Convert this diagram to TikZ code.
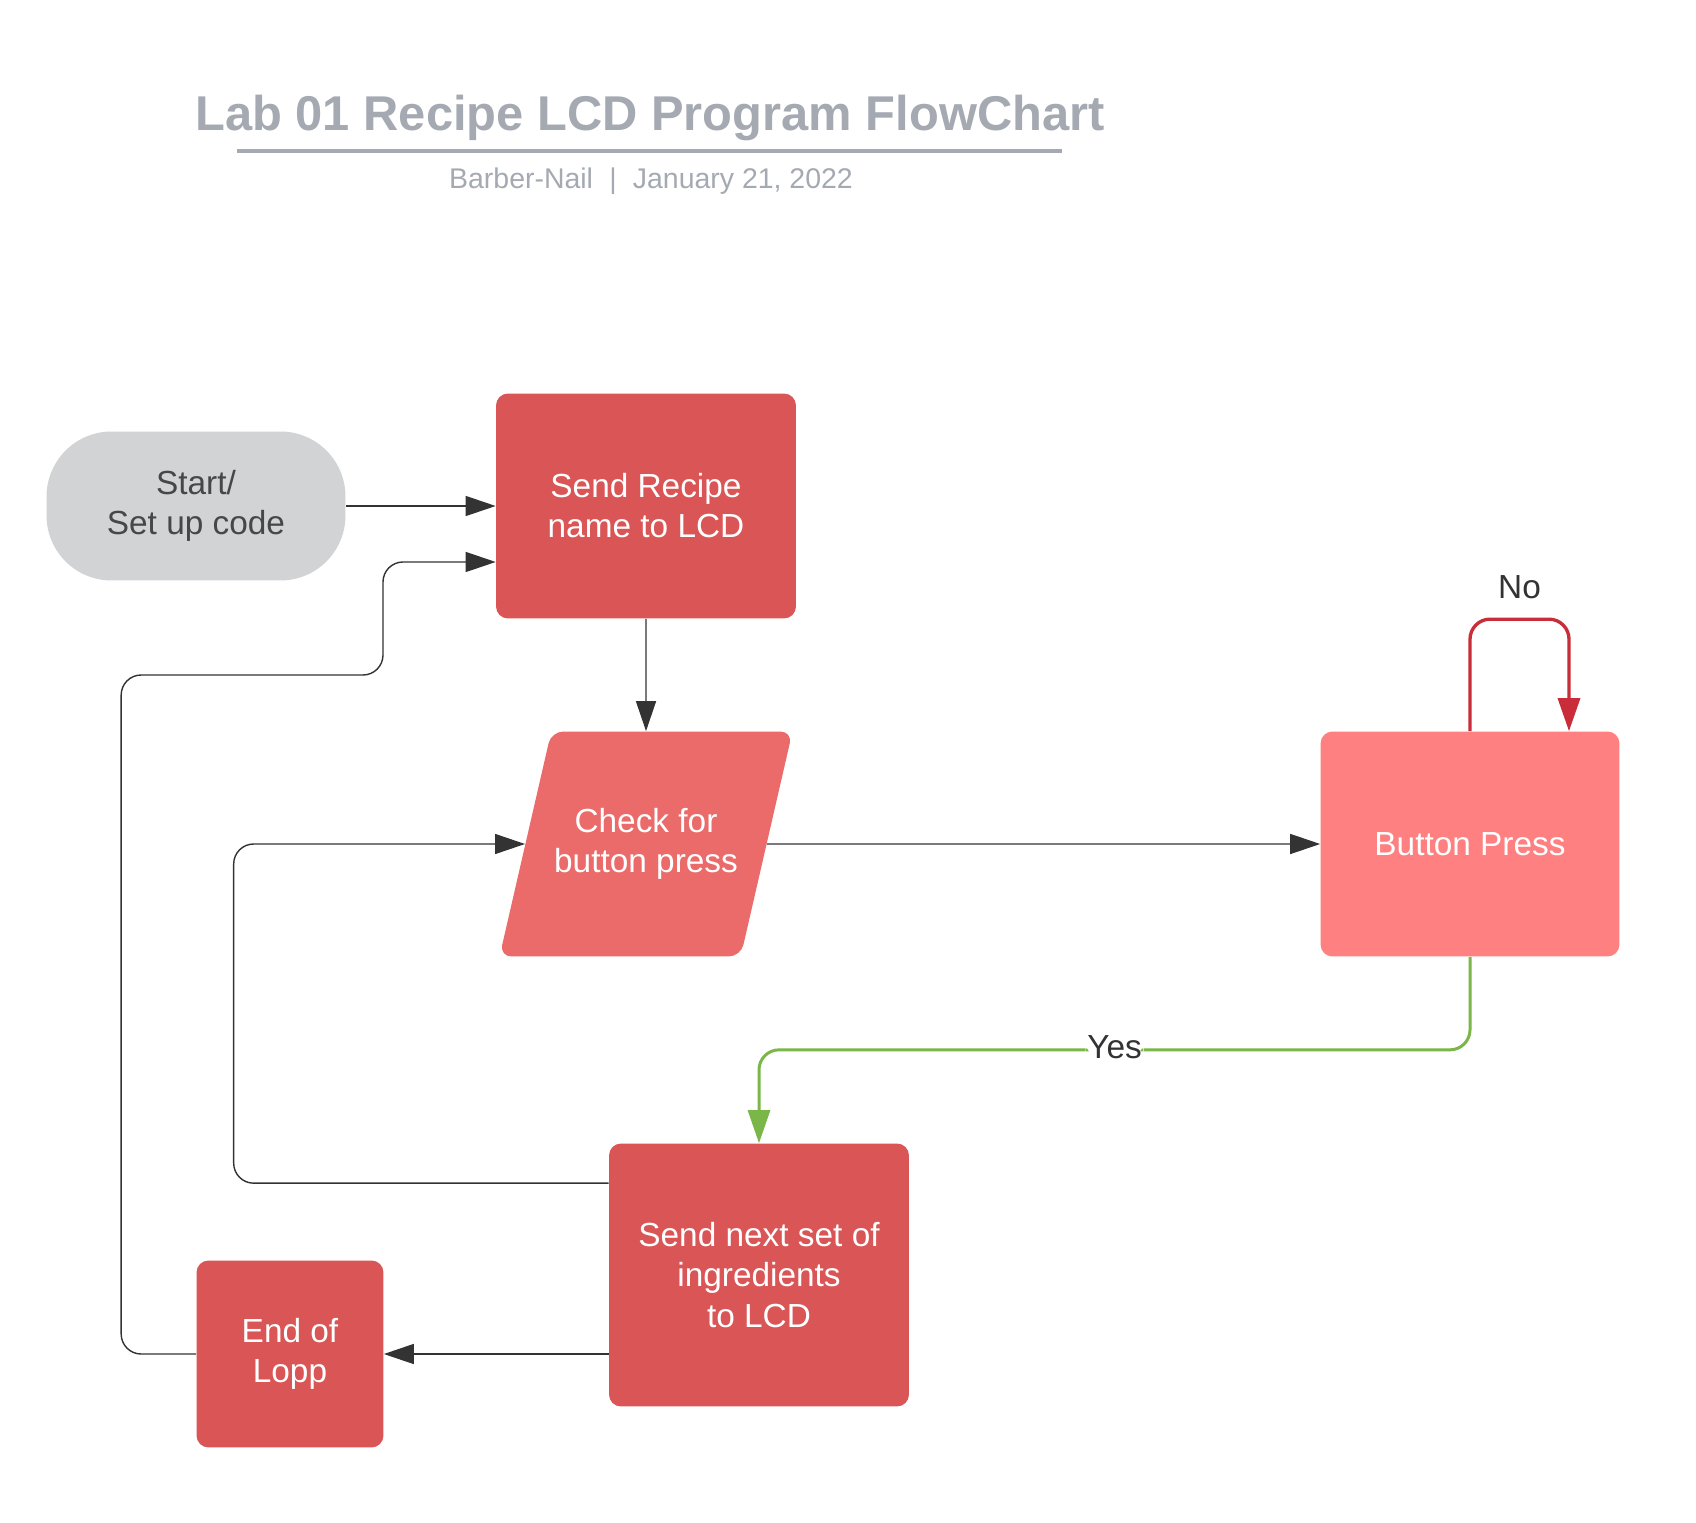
\documentclass[tikz,border=0pt]{standalone}
\usepackage{fontspec}
\setmainfont{Liberation Sans}
\usetikzlibrary{arrows.meta}
\usetikzlibrary{shapes.geometric}

\definecolor{boxred}{HTML}{D95556}
\definecolor{checkred}{HTML}{EB6A6A}
\definecolor{pressred}{HTML}{FE8080}
\definecolor{startgrey}{HTML}{D1D3D4}
\definecolor{titlegrey}{HTML}{A4A9B2}
\definecolor{linedark}{HTML}{333333}
\definecolor{nored}{HTML}{C92D39}
\definecolor{yesgreen}{HTML}{7AB648}

\tikzset{
  box/.style={draw=none, fill=boxred, rounded corners=0.24cm, text=white, align=center,
    font=\fontsize{19pt}{22.8pt}\selectfont},
  flow/.style={draw=linedark, line width=0.8pt, rounded corners=0.4cm,
    -{Triangle[length=0.6cm,width=0.4cm]}},
  noflow/.style={draw=nored, line width=1.9pt, rounded corners=0.4cm,
    -{Triangle[length=0.66cm,width=0.44cm]}},
  yesflow/.style={draw=yesgreen, line width=1.7pt, rounded corners=0.4cm,
    -{Triangle[length=0.66cm,width=0.44cm]}},
  lbl/.style={text=linedark, font=\fontsize{19pt}{22.8pt}\selectfont},
}

\begin{document}
\begin{tikzpicture}[x=0.02cm, y=-0.02cm]
        \useasboundingbox (0,0) rectangle (1696,1523);

        %Title
        \node[anchor=base, text=titlegrey, font=\fontsize{27.8pt}{32pt}\selectfont\bfseries] (title) at (650,131) {Lab 01 Recipe LCD Program FlowChart};
        \draw[titlegrey, line width=2.3pt] (237,151) -- (1062,151);
        \node[anchor=base, text=titlegrey, font=\fontsize{16.2pt}{19pt}\selectfont] (sub) at (651,189) {Barber-Nail\hspace{0.57em}|\hspace{0.57em}January 21, 2022};

        %Nodes
        \node[box, fill=startgrey, text=linedark!90!white, rounded corners=1.3cm, minimum width=5.98cm, minimum height=2.98cm] (start) at (196,506) {Start/\\Set up code};
        \node[box, minimum width=6cm, minimum height=4.5cm] (recipe) at (646,506) {Send Recipe\\name to LCD};
        \node[box, fill=checkred, trapezium, trapezium left angle=77, trapezium right angle=103, trapezium stretches body, minimum width=5.86cm, minimum height=4.5cm, inner xsep=0pt, inner ysep=1.53cm] (check) at (646,844) {Check for\\button press};
        \node[box, fill=pressred, minimum width=5.98cm, minimum height=4.5cm] (press) at (1470,844) {Button Press};
        \node[box, minimum width=6cm, minimum height=5.26cm] (next) at (759,1275) {Send next set of\\ingredients\\to LCD};
        \node[box, minimum width=3.74cm, minimum height=3.74cm] (end) at (290,1354) {End of\\Lopp};

        %Connectors
        \draw[flow] (start) -- (recipe);
        \draw[flow] (recipe) -- (check);
        \draw[flow] (check) -- (press);
        \draw[noflow] (press.north) -- ++(0,-112) -- node[lbl, above=0.25cm] (nolbl) {No} ++(99,0) -- ([xshift=1.98cm]press.north);
        \draw[yesflow] (press.south) -- ++(0,93) -| node[lbl, pos=0.25, fill=white, inner sep=1pt, yshift=0.06cm] (yeslbl) {Yes} (next.north);
        \draw[flow] ([yshift=-0.8cm]next.north west) -- ++(-375,0) |- (check.west);
        \draw[flow] (next.west |- end.east) -- (end.east);
        \draw[flow] (end.west) -- ++(-75,0) |- (383,675) |- ([yshift=-1.12cm]recipe.west);

    \end{tikzpicture}
\end{document}
